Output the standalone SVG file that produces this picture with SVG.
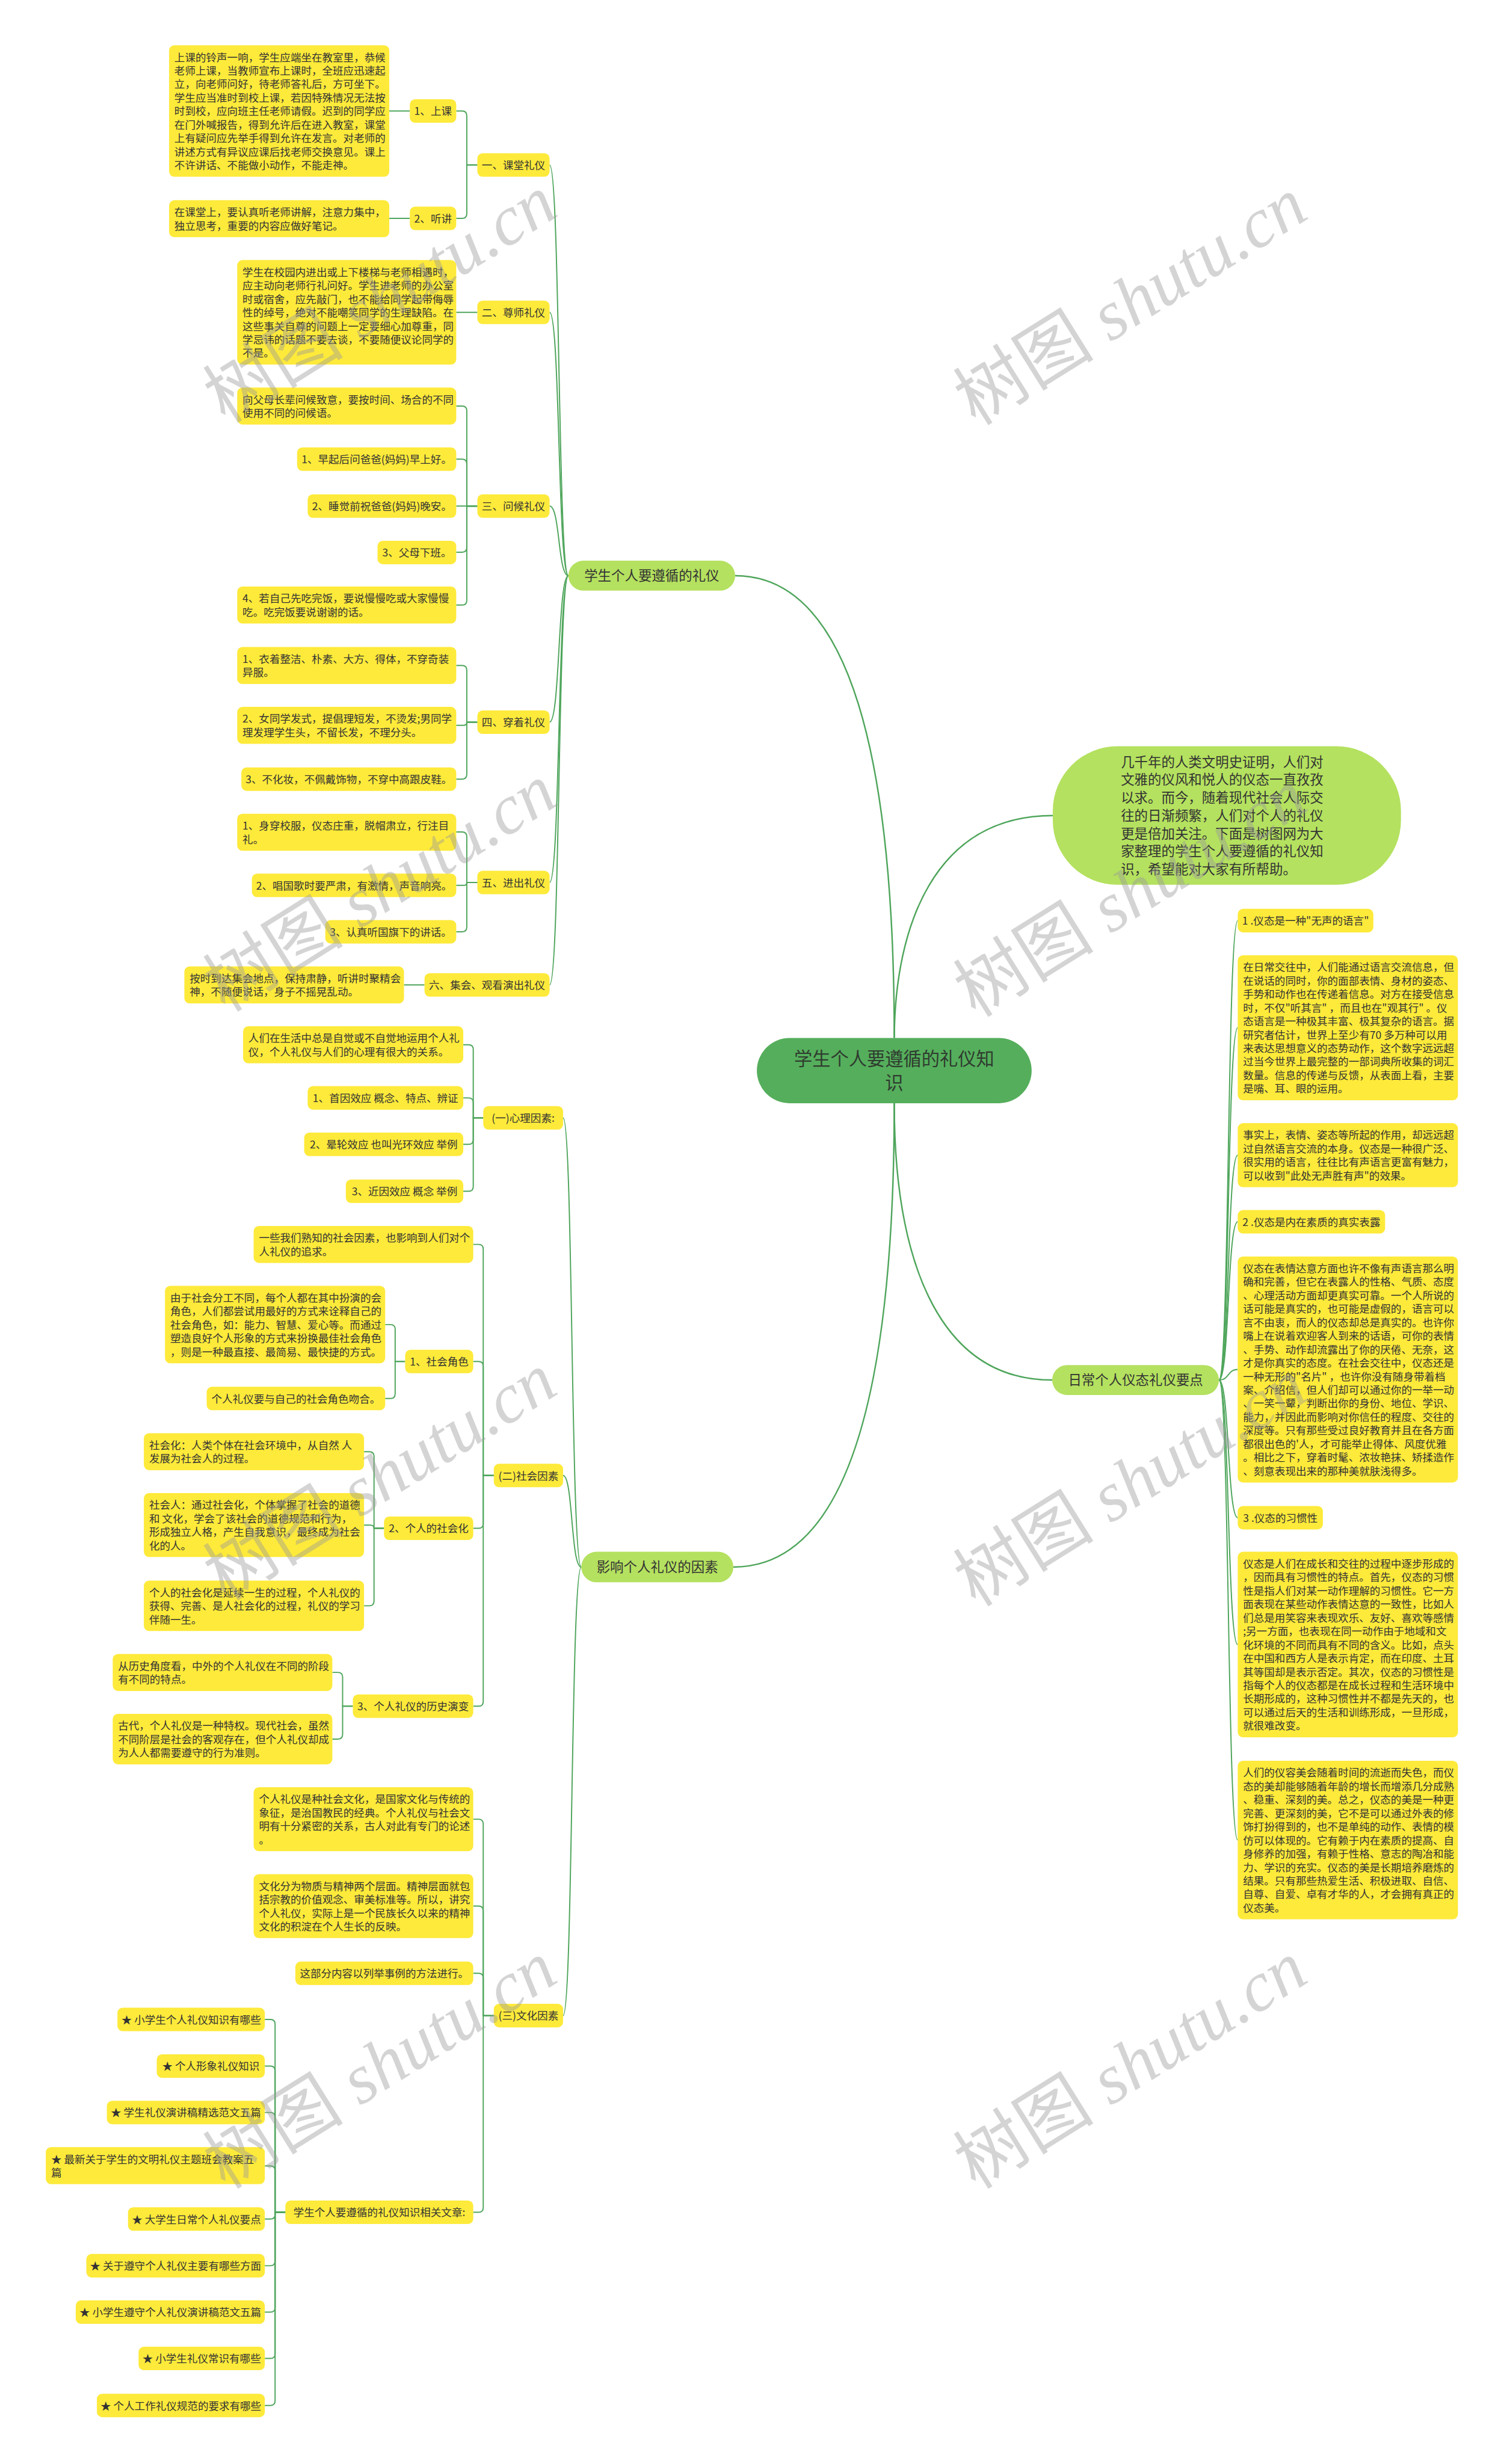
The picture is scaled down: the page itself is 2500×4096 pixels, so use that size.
<svg xmlns="http://www.w3.org/2000/svg" width="2500" height="4096" viewBox="0 0 2500 4096">
<defs>
<style>
.c{fill:none;stroke:#4ea55b;stroke-width:2}
.c1{fill:none;stroke:#4ea55b;stroke-width:2.5}
.b{fill:#feea3a}
.g{fill:#b4e15f}
.t{font-family:"Noto Sans CJK SC","Noto Sans",sans-serif;font-size:18px;fill:#333}
.m{text-anchor:middle}
.mt{font-family:"Noto Sans CJK SC","Noto Sans",sans-serif;font-size:23px;fill:#333;text-anchor:middle}
.wm{font-family:"Liberation Serif","Noto Sans CJK SC",serif;font-size:120px;fill:#999;fill-opacity:0.42;text-anchor:middle}
</style>
</defs>
<rect x="0" y="0" width="2500" height="4096" fill="#fff"/>
<g transform="scale(0.976)">
<g id="connectors">
<path class="c1" d="M1523,1768 C1523,1300 1450,980.5 1252,980.5"/>
<path class="c1" d="M1523,1768 C1524,1580 1590,1389 1793,1389"/>
<path class="c1" d="M1523,1879 C1523,2350 1450,2669 1249,2669"/>
<path class="c1" d="M1523,1879 C1523,2130 1590,2350.5 1792,2350.5"/>
<path class="c" d="M968,980.5 C950,980.5 954,281 936,281"/>
<path class="c" d="M968,980.5 C950,980.5 954,532 936,532"/>
<path class="c" d="M968,980.5 C950,980.5 954,862 936,862"/>
<path class="c" d="M968,980.5 C950,980.5 954,1230 936,1230"/>
<path class="c" d="M968,980.5 C950,980.5 954,1503 936,1503"/>
<path class="c" d="M968,980.5 C950,980.5 954,1677.5 936,1677.5"/>
<path class="c" d="M990,2669 C972,2669 976,1904 959,1904"/>
<path class="c" d="M990,2669 C972,2669 976,2513 959,2513"/>
<path class="c" d="M990,2669 C972,2669 976,3433 959,3433"/>
<path class="c" d="M2076,2350.5 C2094,2350.5 2090,1568 2108,1568"/>
<path class="c" d="M2076,2350.5 C2094,2350.5 2090,1750.5 2108,1750.5"/>
<path class="c" d="M2076,2350.5 C2094,2350.5 2090,1967.5 2108,1967.5"/>
<path class="c" d="M2076,2350.5 C2094,2350.5 2090,2081 2108,2081"/>
<path class="c" d="M2076,2350.5 C2094,2350.5 2090,2332.5 2108,2332.5"/>
<path class="c" d="M2076,2350.5 C2094,2350.5 2090,2585 2108,2585"/>
<path class="c" d="M2076,2350.5 C2094,2350.5 2090,2801 2108,2801"/>
<path class="c" d="M2076,2350.5 C2094,2350.5 2090,3134 2108,3134"/>
<path class="c" d="M813,281H795V197Q795,189 787,189H777"/>
<path class="c" d="M813,281H795V364Q795,372 787,372H777"/>
<path class="c" d="M698,189H663"/>
<path class="c" d="M698,372H663"/>
<path class="c" d="M813,532H777"/>
<path class="c" d="M813,862H795V699.5Q795,691.5 787,691.5H777"/>
<path class="c" d="M813,862H795V790Q795,782 787,782H777"/>
<path class="c" d="M813,862H777"/>
<path class="c" d="M813,862H795V932.5Q795,940.5 787,940.5H777"/>
<path class="c" d="M813,862H795V1022.5Q795,1030.5 787,1030.5H777"/>
<path class="c" d="M813,1230H795V1141.5Q795,1133.5 787,1133.5H777"/>
<path class="c" d="M813,1230H795Q795,1235.5 789,1235.5H777"/>
<path class="c" d="M813,1230H795V1319Q795,1327 787,1327H777"/>
<path class="c" d="M813,1503H795V1425Q795,1417 787,1417H777"/>
<path class="c" d="M813,1503H795Q795,1508 790,1508H777"/>
<path class="c" d="M813,1503H795V1579Q795,1587 787,1587H777"/>
<path class="c" d="M723,1677.5H688"/>
<path class="c" d="M823,1904H806V1787.5Q806,1779.5 798,1779.5H789"/>
<path class="c" d="M823,1904H806V1878Q806,1870 798,1870H789"/>
<path class="c" d="M823,1904H806V1941Q806,1949 798,1949H789"/>
<path class="c" d="M823,1904H806V2021Q806,2029 798,2029H789"/>
<path class="c" d="M841,2513H823V2127.5Q823,2119.5 815,2119.5H806"/>
<path class="c" d="M841,2513H823V2327Q823,2319 815,2319H806"/>
<path class="c" d="M841,2513H823V2595Q823,2603 815,2603H806"/>
<path class="c" d="M841,2513H823V2898Q823,2906 815,2906H806"/>
<path class="c" d="M690,2319H673V2264Q673,2256 665,2256H656"/>
<path class="c" d="M690,2319H673V2374Q673,2382 665,2382H656"/>
<path class="c" d="M654,2603H637V2480.5Q637,2472.5 629,2472.5H620"/>
<path class="c" d="M654,2603H637Q637,2597.5 631,2597.5H620"/>
<path class="c" d="M654,2603H637V2727Q637,2735 629,2735H620"/>
<path class="c" d="M601,2906H583.5V2856.5Q583.5,2848.5 575.5,2848.5H566"/>
<path class="c" d="M601,2906H583.5V2954Q583.5,2962 575.5,2962H566"/>
<path class="c" d="M841,3433H823V3106.5Q823,3098.5 815,3098.5H806"/>
<path class="c" d="M841,3433H823V3254.5Q823,3246.5 815,3246.5H806"/>
<path class="c" d="M841,3433H823V3369Q823,3361 815,3361H806"/>
<path class="c" d="M841,3433H823V3760Q823,3768 815,3768H806"/>
<path class="c" d="M486,3768H468.5V3447.5Q468.5,3439.5 460.5,3439.5H451"/>
<path class="c" d="M486,3768H468.5V3527Q468.5,3519 460.5,3519H451"/>
<path class="c" d="M486,3768H468.5V3606Q468.5,3598 460.5,3598H451"/>
<path class="c" d="M486,3768H468.5V3697Q468.5,3689 460.5,3689H451"/>
<path class="c" d="M486,3768H468.5V3771.5Q468.5,3779.5 460.5,3779.5H451"/>
<path class="c" d="M486,3768H468.5V3851Q468.5,3859 460.5,3859H451"/>
<path class="c" d="M486,3768H468.5V3930Q468.5,3938 460.5,3938H451"/>
<path class="c" d="M486,3768H468.5V4009Q468.5,4017 460.5,4017H451"/>
<path class="c" d="M486,3768H468.5V4089Q468.5,4097 460.5,4097H451"/>
</g>

<g id="central"><rect x="1289" y="1768" width="468" height="111" rx="55.5" fill="#55ae5c"/><text x="1523" y="1815" style="font-family:'Noto Sans CJK SC',sans-serif;font-size:31px;fill:#2f3b2f;text-anchor:middle"><tspan x="1523">学生个人要遵循的礼仪知</tspan><tspan x="1523" dy="41">识</tspan></text></g>

<g id="intro"><rect class="g" x="1793" y="1271" width="593" height="236" rx="110"/><text x="1909" y="1306" style="font-family:'Noto Sans CJK SC',sans-serif;font-size:23px;fill:#333"><tspan x="1909">几千年的人类文明史证明，人们对</tspan><tspan x="1909" dy="30.5">文雅的仪风和悦人的仪态一直孜孜</tspan><tspan x="1909" dy="30.5">以求。而今，随着现代社会人际交</tspan><tspan x="1909" dy="30.5">往的日渐频繁，人们对个人的礼仪</tspan><tspan x="1909" dy="30.5">更是倍加关注。下面是树图网为大</tspan><tspan x="1909" dy="30.5">家整理的学生个人要遵循的礼仪知</tspan><tspan x="1909" dy="30.5">识，希望能对大家有所帮助。</tspan></text></g>

<g id="main-xuesheng"><rect class="g" x="968" y="955" width="284" height="51" rx="25.5"/><text class="mt" x="1110" y="988.5">学生个人要遵循的礼仪</text></g>
<g id="main-yingxiang"><rect class="g" x="990" y="2643" width="259" height="52" rx="26"/><text class="mt" x="1119.5" y="2677">影响个人礼仪的因素</text></g>
<g id="main-richang"><rect class="g" x="1792" y="2325" width="284" height="51" rx="25.5"/><text class="mt" x="1934" y="2358.5">日常个人仪态礼仪要点</text></g>

<g id="n-ketang"><rect class="b" x="813" y="261" width="123" height="40" rx="9"/><text class="t m" x="874.5" y="288">一、课堂礼仪</text></g>
<g id="n-shangke"><rect class="b" x="698" y="169" width="79" height="40" rx="9"/><text class="t m" x="737.5" y="196">1、上课</text></g>
<g id="n-shangke-t"><rect class="b" x="288" y="77" width="375" height="224" rx="9"/><text class="t" x="297" y="104"><tspan x="297">上课的铃声一响，学生应端坐在教室里，恭候</tspan><tspan x="297" dy="23">老师上课，当教师宣布上课时，全班应迅速起</tspan><tspan x="297" dy="23">立，向老师问好，待老师答礼后，方可坐下。</tspan><tspan x="297" dy="23">学生应当准时到校上课，若因特殊情况无法按</tspan><tspan x="297" dy="23">时到校，应向班主任老师请假。迟到的同学应</tspan><tspan x="297" dy="23">在门外喊报告，得到允许后在进入教室，课堂</tspan><tspan x="297" dy="23">上有疑问应先举手得到允许在发言。对老师的</tspan><tspan x="297" dy="23">讲述方式有异议应课后找老师交换意见。课上</tspan><tspan x="297" dy="23">不许讲话、不能做小动作，不能走神。</tspan></text></g>
<g id="n-tingjiang"><rect class="b" x="698" y="352" width="79" height="40" rx="9"/><text class="t m" x="737.5" y="379">2、听讲</text></g>
<g id="n-tingjiang-t"><rect class="b" x="288" y="341" width="375" height="63" rx="9"/><text class="t" x="297" y="368"><tspan x="297">在课堂上，要认真听老师讲解，注意力集中，</tspan><tspan x="297" dy="23">独立思考，重要的内容应做好笔记。</tspan></text></g>
<g id="n-zunshi"><rect class="b" x="813" y="512" width="123" height="40" rx="9"/><text class="t m" x="874.5" y="539">二、尊师礼仪</text></g>
<g id="n-zunshi-t"><rect class="b" x="404" y="443" width="373" height="178" rx="9"/><text class="t" x="413" y="470"><tspan x="413">学生在校园内进出或上下楼梯与老师相遇时，</tspan><tspan x="413" dy="23">应主动向老师行礼问好。学生进老师的办公室</tspan><tspan x="413" dy="23">时或宿舍，应先敲门，也不能给同学起带侮辱</tspan><tspan x="413" dy="23">性的绰号，绝对不能嘲笑同学的生理缺陷。在</tspan><tspan x="413" dy="23">这些事关自尊的问题上一定要细心加尊重，同</tspan><tspan x="413" dy="23">学忌讳的话题不要去谈，不要随便议论同学的</tspan><tspan x="413" dy="23">不是。</tspan></text></g>
<g id="n-wenhou"><rect class="b" x="813" y="842" width="123" height="40" rx="9"/><text class="t m" x="874.5" y="869">三、问候礼仪</text></g>
<g id="n-wenhou-0"><rect class="b" x="404" y="660" width="373" height="63" rx="9"/><text class="t" x="413" y="687"><tspan x="413">向父母长辈问候致意，要按时间、场合的不同</tspan><tspan x="413" dy="23">使用不同的问候语。</tspan></text></g>
<g id="n-wenhou-1"><rect class="b" x="506" y="762" width="271" height="40" rx="9"/><text class="t m" x="641.5" y="789">1、早起后问爸爸(妈妈)早上好。</text></g>
<g id="n-wenhou-2"><rect class="b" x="524" y="842" width="253" height="40" rx="9"/><text class="t m" x="650.5" y="869">2、睡觉前祝爸爸(妈妈)晚安。</text></g>
<g id="n-wenhou-3"><rect class="b" x="643" y="921" width="134" height="40" rx="9"/><text class="t m" x="710" y="948">3、父母下班。</text></g>
<g id="n-wenhou-4"><rect class="b" x="404" y="999" width="373" height="63" rx="9"/><text class="t" x="413" y="1026"><tspan x="413">4、若自己先吃完饭，要说慢慢吃或大家慢慢</tspan><tspan x="413" dy="23">吃。吃完饭要说谢谢的话。</tspan></text></g>
<g id="n-chuanzhuo"><rect class="b" x="813" y="1210" width="123" height="40" rx="9"/><text class="t m" x="874.5" y="1237">四、穿着礼仪</text></g>
<g id="n-chuanzhuo-1"><rect class="b" x="404" y="1102" width="373" height="63" rx="9"/><text class="t" x="413" y="1129"><tspan x="413">1、衣着整洁、朴素、大方、得体，不穿奇装</tspan><tspan x="413" dy="23">异服。</tspan></text></g>
<g id="n-chuanzhuo-2"><rect class="b" x="404" y="1204" width="373" height="63" rx="9"/><text class="t" x="413" y="1231"><tspan x="413">2、女同学发式，提倡理短发，不烫发;男同学</tspan><tspan x="413" dy="23">理发理学生头，不留长发，不理分头。</tspan></text></g>
<g id="n-chuanzhuo-3"><rect class="b" x="411" y="1307" width="366" height="40" rx="9"/><text class="t m" x="594" y="1334">3、不化妆，不佩戴饰物，不穿中高跟皮鞋。</text></g>
<g id="n-jinchu"><rect class="b" x="813" y="1483" width="123" height="40" rx="9"/><text class="t m" x="874.5" y="1510">五、进出礼仪</text></g>
<g id="n-jinchu-1"><rect class="b" x="404" y="1386" width="373" height="63" rx="9"/><text class="t" x="413" y="1413"><tspan x="413">1、身穿校服，仪态庄重，脱帽肃立，行注目</tspan><tspan x="413" dy="23">礼。</tspan></text></g>
<g id="n-jinchu-2"><rect class="b" x="429" y="1488" width="348" height="40" rx="9"/><text class="t m" x="603" y="1515">2、唱国歌时要严肃，有激情，声音响亮。</text></g>
<g id="n-jinchu-3"><rect class="b" x="554" y="1567" width="223" height="40" rx="9"/><text class="t m" x="665.5" y="1594">3、认真听国旗下的讲话。</text></g>
<g id="n-jihui"><rect class="b" x="723" y="1657.5" width="213" height="40" rx="9"/><text class="t m" x="829.5" y="1684.5">六、集会、观看演出礼仪</text></g>
<g id="n-jihui-t"><rect class="b" x="314" y="1646" width="374" height="63" rx="9"/><text class="t" x="323" y="1673"><tspan x="323">按时到达集会地点，保持肃静，听讲时聚精会</tspan><tspan x="323" dy="23">神，不随便说话，身子不摇晃乱动。</tspan></text></g>

<g id="n-xinli"><rect class="b" x="823" y="1884" width="136" height="40" rx="9"/><text class="t m" x="891" y="1911">(一)心理因素:</text></g>
<g id="n-xinli-0"><rect class="b" x="414" y="1748" width="375" height="63" rx="9"/><text class="t" x="423" y="1775"><tspan x="423">人们在生活中总是自觉或不自觉地运用个人礼</tspan><tspan x="423" dy="23">仪，个人礼仪与人们的心理有很大的关系。</tspan></text></g>
<g id="n-xinli-1"><rect class="b" x="524" y="1850" width="265" height="40" rx="9"/><text class="t m" x="656.5" y="1877">1、首因效应 概念、特点、辨证</text></g>
<g id="n-xinli-2"><rect class="b" x="518" y="1929" width="271" height="40" rx="9"/><text class="t m" x="653.5" y="1956">2、晕轮效应 也叫光环效应 举例</text></g>
<g id="n-xinli-3"><rect class="b" x="589" y="2009" width="200" height="40" rx="9"/><text class="t m" x="689" y="2036">3、近因效应 概念 举例</text></g>
<g id="n-shehui"><rect class="b" x="841" y="2493" width="118" height="40" rx="9"/><text class="t m" x="900" y="2520">(二)社会因素</text></g>
<g id="n-shehui-0"><rect class="b" x="432" y="2088" width="374" height="63" rx="9"/><text class="t" x="441" y="2115"><tspan x="441">一些我们熟知的社会因素，也影响到人们对个</tspan><tspan x="441" dy="23">人礼仪的追求。</tspan></text></g>
<g id="n-juese"><rect class="b" x="690" y="2299" width="116" height="40" rx="9"/><text class="t m" x="748" y="2326">1、社会角色</text></g>
<g id="n-juese-1"><rect class="b" x="281" y="2190" width="375" height="132" rx="9"/><text class="t" x="290" y="2217"><tspan x="290">由于社会分工不同，每个人都在其中扮演的会</tspan><tspan x="290" dy="23">角色，人们都尝试用最好的方式来诠释自己的</tspan><tspan x="290" dy="23">社会角色，如：能力、智慧、爱心等。而通过</tspan><tspan x="290" dy="23">塑造良好个人形象的方式来扮换最佳社会角色</tspan><tspan x="290" dy="23">，则是一种最直接、最简易、最快捷的方式。</tspan></text></g>
<g id="n-juese-2"><rect class="b" x="352" y="2362" width="304" height="40" rx="9"/><text class="t m" x="504" y="2389">个人礼仪要与自己的社会角色吻合。</text></g>
<g id="n-shehuihua"><rect class="b" x="654" y="2583" width="152" height="40" rx="9"/><text class="t m" x="730" y="2610">2、个人的社会化</text></g>
<g id="n-shehuihua-1"><rect class="b" x="245" y="2441" width="375" height="63" rx="9"/><text class="t" x="254" y="2468"><tspan x="254">社会化：人类个体在社会环境中，从自然 人</tspan><tspan x="254" dy="23">发展为社会人的过程。</tspan></text></g>
<g id="n-shehuihua-2"><rect class="b" x="245" y="2543" width="375" height="109" rx="9"/><text class="t" x="254" y="2570"><tspan x="254">社会人：通过社会化，个体掌握了社会的道德</tspan><tspan x="254" dy="23">和 文化，学会了该社会的道德规范和行为，</tspan><tspan x="254" dy="23">形成独立人格，产生自我意识，最终成为社会</tspan><tspan x="254" dy="23">化的人。</tspan></text></g>
<g id="n-shehuihua-3"><rect class="b" x="245" y="2692" width="375" height="86" rx="9"/><text class="t" x="254" y="2719"><tspan x="254">个人的社会化是延续一生的过程，个人礼仪的</tspan><tspan x="254" dy="23">获得、完善、是人社会化的过程，礼仪的学习</tspan><tspan x="254" dy="23">伴随一生。</tspan></text></g>
<g id="n-lishi"><rect class="b" x="601" y="2886" width="205" height="40" rx="9"/><text class="t m" x="703.5" y="2913">3、个人礼仪的历史演变</text></g>
<g id="n-lishi-1"><rect class="b" x="192" y="2817" width="374" height="63" rx="9"/><text class="t" x="201" y="2844"><tspan x="201">从历史角度看，中外的个人礼仪在不同的阶段</tspan><tspan x="201" dy="23">有不同的特点。</tspan></text></g>
<g id="n-lishi-2"><rect class="b" x="192" y="2919" width="374" height="86" rx="9"/><text class="t" x="201" y="2946"><tspan x="201">古代，个人礼仪是一种特权。现代社会，虽然</tspan><tspan x="201" dy="23">不同阶层是社会的客观存在，但个人礼仪却成</tspan><tspan x="201" dy="23">为人人都需要遵守的行为准则。</tspan></text></g>
<g id="n-wenhua"><rect class="b" x="841" y="3413" width="118" height="40" rx="9"/><text class="t m" x="900" y="3440">(三)文化因素</text></g>
<g id="n-wenhua-1"><rect class="b" x="432" y="3044" width="374" height="109" rx="9"/><text class="t" x="441" y="3071"><tspan x="441">个人礼仪是种社会文化，是国家文化与传统的</tspan><tspan x="441" dy="23">象征，是治国教民的经典。个人礼仪与社会文</tspan><tspan x="441" dy="23">明有十分紧密的关系，古人对此有专门的论述</tspan><tspan x="441" dy="23">。</tspan></text></g>
<g id="n-wenhua-2"><rect class="b" x="432" y="3192" width="374" height="109" rx="9"/><text class="t" x="441" y="3219"><tspan x="441">文化分为物质与精神两个层面。精神层面就包</tspan><tspan x="441" dy="23">括宗教的价值观念、审美标准等。所以，讲究</tspan><tspan x="441" dy="23">个人礼仪，实际上是一个民族长久以来的精神</tspan><tspan x="441" dy="23">文化的积淀在个人生长的反映。</tspan></text></g>
<g id="n-wenhua-3"><rect class="b" x="503" y="3341" width="303" height="40" rx="9"/><text class="t m" x="654.5" y="3368">这部分内容以列举事例的方法进行。</text></g>
<g id="n-xiangguan"><rect class="b" x="486" y="3748" width="320" height="40" rx="9"/><text class="t m" x="646" y="3775">学生个人要遵循的礼仪知识相关文章:</text></g>
<g id="n-art-1"><rect class="b" x="200" y="3419.5" width="251" height="40" rx="9"/><text class="t m" x="325.5" y="3446.5">★ 小学生个人礼仪知识有哪些</text></g>
<g id="n-art-2"><rect class="b" x="267" y="3499" width="184" height="40" rx="9"/><text class="t m" x="359" y="3526">★ 个人形象礼仪知识</text></g>
<g id="n-art-3"><rect class="b" x="182" y="3578" width="269" height="40" rx="9"/><text class="t m" x="316.5" y="3605">★ 学生礼仪演讲稿精选范文五篇</text></g>
<g id="n-art-4"><rect class="b" x="78" y="3657" width="373" height="63" rx="9"/><text class="t" x="87" y="3684"><tspan x="87">★ 最新关于学生的文明礼仪主题班会教案五</tspan><tspan x="87" dy="23">篇</tspan></text></g>
<g id="n-art-5"><rect class="b" x="218" y="3759.5" width="233" height="40" rx="9"/><text class="t m" x="334.5" y="3786.5">★ 大学生日常个人礼仪要点</text></g>
<g id="n-art-6"><rect class="b" x="147" y="3839" width="304" height="40" rx="9"/><text class="t m" x="299" y="3866">★ 关于遵守个人礼仪主要有哪些方面</text></g>
<g id="n-art-7"><rect class="b" x="129" y="3918" width="322" height="40" rx="9"/><text class="t m" x="290" y="3945">★ 小学生遵守个人礼仪演讲稿范文五篇</text></g>
<g id="n-art-8"><rect class="b" x="236" y="3997" width="215" height="40" rx="9"/><text class="t m" x="343.5" y="4024">★ 小学生礼仪常识有哪些</text></g>
<g id="n-art-9"><rect class="b" x="165" y="4077" width="286" height="40" rx="9"/><text class="t m" x="308" y="4104">★ 个人工作礼仪规范的要求有哪些</text></g>

<g id="r-1"><rect class="b" x="2108" y="1548" width="231" height="40" rx="9"/><text class="t m" x="2223.5" y="1575">1 .仪态是一种"无声的语言"</text></g>
<g id="r-2"><rect class="b" x="2108" y="1627" width="375" height="247" rx="9"/><text class="t" x="2117" y="1654"><tspan x="2117">在日常交往中，人们能通过语言交流信息，但</tspan><tspan x="2117" dy="23">在说话的同时，你的面部表情、身材的姿态、</tspan><tspan x="2117" dy="23">手势和动作也在传递着信息。对方在接受信息</tspan><tspan x="2117" dy="23">时，不仅"听其言" ，而且也在"观其行" 。仪</tspan><tspan x="2117" dy="23">态语言是一种极其丰富、极其复杂的语言。据</tspan><tspan x="2117" dy="23">研究者估计，世界上至少有70 多万种可以用</tspan><tspan x="2117" dy="23">来表达思想意义的态势动作，这个数字远远超</tspan><tspan x="2117" dy="23">过当今世界上最完整的一部词典所收集的词汇</tspan><tspan x="2117" dy="23">数量。信息的传递与反馈，从表面上看，主要</tspan><tspan x="2117" dy="23">是嘴、耳、眼的运用。</tspan></text></g>
<g id="r-3"><rect class="b" x="2108" y="1913" width="375" height="109" rx="9"/><text class="t" x="2117" y="1940"><tspan x="2117">事实上，表情、姿态等所起的作用，却远远超</tspan><tspan x="2117" dy="23">过自然语言交流的本身。仪态是一种很广泛、</tspan><tspan x="2117" dy="23">很实用的语言，往往比有声语言更富有魅力，</tspan><tspan x="2117" dy="23">可以收到"此处无声胜有声"的效果。</tspan></text></g>
<g id="r-4"><rect class="b" x="2108" y="2061" width="251" height="40" rx="9"/><text class="t m" x="2233.5" y="2088">2 .仪态是内在素质的真实表露</text></g>
<g id="r-5"><rect class="b" x="2108" y="2140" width="375" height="385" rx="9"/><text class="t" x="2117" y="2167"><tspan x="2117">仪态在表情达意方面也许不像有声语言那么明</tspan><tspan x="2117" dy="23">确和完善，但它在表露人的性格、气质、态度</tspan><tspan x="2117" dy="23">、心理活动方面却更真实可靠。一个人所说的</tspan><tspan x="2117" dy="23">话可能是真实的，也可能是虚假的，语言可以</tspan><tspan x="2117" dy="23">言不由衷，而人的仪态却总是真实的。也许你</tspan><tspan x="2117" dy="23">嘴上在说着欢迎客人到来的话语，可你的表情</tspan><tspan x="2117" dy="23">、手势、动作却流露出了你的厌倦、无奈，这</tspan><tspan x="2117" dy="23">才是你真实的态度。在社会交往中，仪态还是</tspan><tspan x="2117" dy="23">一种无形的"名片" ，也许你没有随身带着档</tspan><tspan x="2117" dy="23">案、介绍信，但人们却可以通过你的一举一动</tspan><tspan x="2117" dy="23">、一笑一颦，判断出你的身份、地位、学识、</tspan><tspan x="2117" dy="23">能力，并因此而影响对你信任的程度、交往的</tspan><tspan x="2117" dy="23">深度等。只有那些受过良好教育并且在各方面</tspan><tspan x="2117" dy="23">都很出色的'人，才可能举止得体、风度优雅</tspan><tspan x="2117" dy="23">。相比之下，穿着时髦、浓妆艳抹、矫揉造作</tspan><tspan x="2117" dy="23">、刻意表现出来的那种美就肤浅得多。</tspan></text></g>
<g id="r-6"><rect class="b" x="2108" y="2565" width="145" height="40" rx="9"/><text class="t m" x="2180.5" y="2592">3 .仪态的习惯性</text></g>
<g id="r-7"><rect class="b" x="2108" y="2643" width="375" height="316" rx="9"/><text class="t" x="2117" y="2670"><tspan x="2117">仪态是人们在成长和交往的过程中逐步形成的</tspan><tspan x="2117" dy="23">，因而具有习惯性的特点。首先，仪态的习惯</tspan><tspan x="2117" dy="23">性是指人们对某一动作理解的习惯性。它一方</tspan><tspan x="2117" dy="23">面表现在某些动作表情达意的一致性，比如人</tspan><tspan x="2117" dy="23">们总是用笑容来表现欢乐、友好、喜欢等感情</tspan><tspan x="2117" dy="23">;另一方面，也表现在同一动作由于地域和文</tspan><tspan x="2117" dy="23">化环境的不同而具有不同的含义。比如，点头</tspan><tspan x="2117" dy="23">在中国和西方人是表示肯定，而在印度、土耳</tspan><tspan x="2117" dy="23">其等国却是表示否定。其次，仪态的习惯性是</tspan><tspan x="2117" dy="23">指每个人的仪态都是在成长过程和生活环境中</tspan><tspan x="2117" dy="23">长期形成的，这种习惯性并不都是先天的，也</tspan><tspan x="2117" dy="23">可以通过后天的生活和训练形成，一旦形成，</tspan><tspan x="2117" dy="23">就很难改变。</tspan></text></g>
<g id="r-8"><rect class="b" x="2108" y="2999" width="375" height="270" rx="9"/><text class="t" x="2117" y="3026"><tspan x="2117">人们的仪容美会随着时间的流逝而失色，而仪</tspan><tspan x="2117" dy="23">态的美却能够随着年龄的增长而增添几分成熟</tspan><tspan x="2117" dy="23">、稳重、深刻的美。总之，仪态的美是一种更</tspan><tspan x="2117" dy="23">完善、更深刻的美，它不是可以通过外表的修</tspan><tspan x="2117" dy="23">饰打扮得到的，也不是单纯的动作、表情的模</tspan><tspan x="2117" dy="23">仿可以体现的。它有赖于内在素质的提高、自</tspan><tspan x="2117" dy="23">身修养的加强，有赖于性格、意志的陶冶和能</tspan><tspan x="2117" dy="23">力、学识的充实。仪态的美是长期培养磨炼的</tspan><tspan x="2117" dy="23">结果。只有那些热爱生活、积极进取、自信、</tspan><tspan x="2117" dy="23">自尊、自爱、卓有才华的人，才会拥有真正的</tspan><tspan x="2117" dy="23">仪态美。</tspan></text></g>

<g id="watermark" class="wm">
<text transform="translate(648,510) rotate(-32)" y="40">树图 <tspan font-style="italic">shutu.cn</tspan></text>
<text transform="translate(1926,514) rotate(-32)" y="40">树图 <tspan font-style="italic">shutu.cn</tspan></text>
<text transform="translate(648,1513) rotate(-32)" y="40">树图 <tspan font-style="italic">shutu.cn</tspan></text>
<text transform="translate(1926,1522) rotate(-32)" y="40">树图 <tspan font-style="italic">shutu.cn</tspan></text>
<text transform="translate(648,2516) rotate(-32)" y="40">树图 <tspan font-style="italic">shutu.cn</tspan></text>
<text transform="translate(1926,2526) rotate(-32)" y="40">树图 <tspan font-style="italic">shutu.cn</tspan></text>
<text transform="translate(648,3518) rotate(-32)" y="40">树图 <tspan font-style="italic">shutu.cn</tspan></text>
<text transform="translate(1926,3518) rotate(-32)" y="40">树图 <tspan font-style="italic">shutu.cn</tspan></text>
</g>
</g>
</svg>
